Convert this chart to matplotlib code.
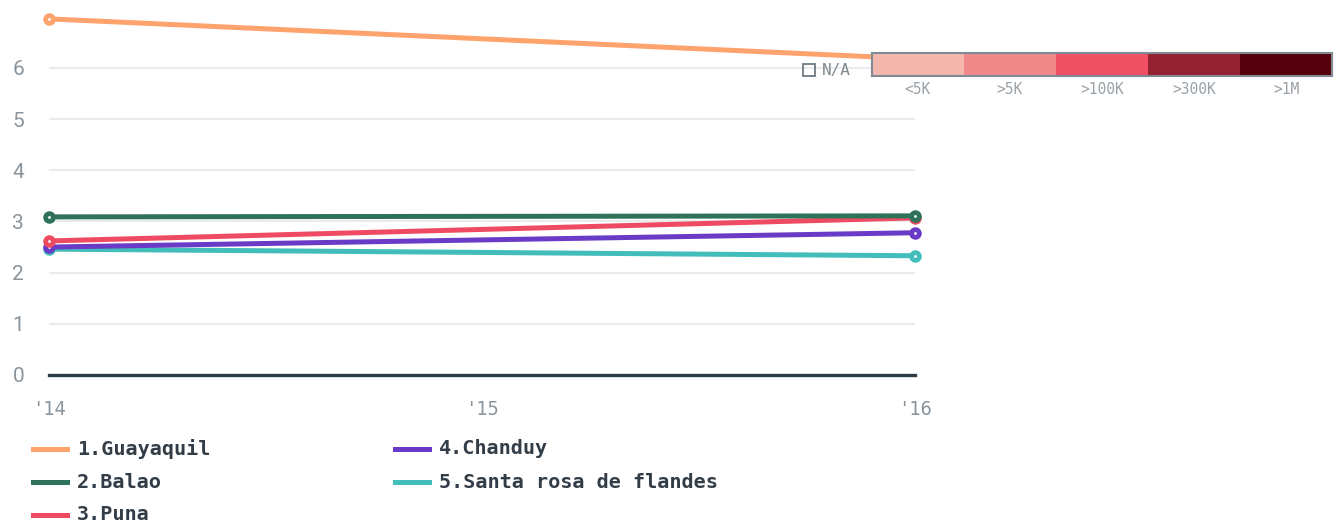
import matplotlib.pyplot as plt
from matplotlib.lines import Line2D

W, H = 1342, 528

years = ["'14", "'15", "'16"]
year_pos = [0, 2]  # data only for '14 and '16
names = ["1.Guayaquil", "2.Balao", "3.Puna", "4.Chanduy", "5.Santa rosa de flandes"]
guayaquil = [6.96, 6.18]
balao = [3.09, 3.11]
puna = [2.62, 3.07]
chanduy = [2.50, 2.78]
santa_rosa = [2.46, 2.33]
series = [guayaquil, balao, puna, chanduy, santa_rosa]
colors = ["#ffa36c", "#2e7359", "#ee4b63", "#6a3bc6", "#43bcbc"]

scale_labels = ["<5K", ">5K", ">100K", ">300K", ">1M"]
scale_colors = ["#f4b7ae", "#f08a8a", "#ef5064", "#93212f", "#55000c"]

fig = plt.figure(figsize=(W / 100, H / 100), dpi=100)

# main axes: x from 49 to 915 px, y=0 at 375 px, 7 at ~17 px
y0, ppu = 375, 51.17
ax = fig.add_axes([49 / W, (H - y0) / H, 866 / W, 7 * ppu / H])
ax.set_xlim(0, 2)
ax.set_ylim(0, 7)
for s in ax.spines.values():
    s.set_visible(False)
ax.set_yticks(range(0, 7))
ax.grid(axis="y", color="#e6e8ea", lw=1.2)
ax.set_axisbelow(True)
ax.tick_params(length=0)
ax.set_yticklabels([str(v) for v in range(7)], family="Roboto", fontsize=15, color="#8a949c")
ax.tick_params(axis="y", pad=18)
ax.set_xticks(range(3))
ax.set_xticklabels(years, family="DejaVu Sans Mono", fontsize=13.5, color="#8a949c")
ax.tick_params(axis="x", pad=18)
ax.axhline(0, color="#2d3b45", lw=2.4, zorder=3, clip_on=False)

# draw in reverse so Guayaquil sits on top
for i in reversed(range(len(series))):
    z = 4 + (len(series) - i)
    ax.plot(year_pos, series[i], color=colors[i], lw=3.6, marker="o", ms=9, mew=0,
            clip_on=False, zorder=z, solid_capstyle="round")
    ax.plot(year_pos, series[i], ls="none", marker="o", ms=2, mew=0, color="white",
            clip_on=False, zorder=z)

# colour scale legend
cax = fig.add_axes([872 / W, (H - 76) / H, 460 / W, 23 / H])
cax.bar(range(len(scale_colors)), [1] * len(scale_colors), width=1.0, color=scale_colors)
cax.set_xlim(-0.5, len(scale_colors) - 0.5)
cax.set_ylim(0, 1)
cax.set_yticks([])
cax.set_xticks(range(len(scale_labels)))
cax.set_xticklabels(scale_labels, family="DejaVu Sans Mono", fontsize=10.5, color="#9aa2a8")
cax.tick_params(length=0, pad=4)
for s in cax.spines.values():
    s.set_color("#7f8a92")
    s.set_linewidth(1.5)

fig.patches.append(plt.Rectangle((803 / W, (H - 76) / H), 12 / W, 12 / H, transform=fig.transFigure,
                                 fill=False, ec="#6f7a82", lw=1.3))
fig.text(822 / W, (H - 70) / H, "N/A", family="DejaVu Sans Mono", fontsize=11.5, color="#7f8a92",
         va="center", ha="left")

# series legend
cols = [33, 395]
rows = [449, 482, 515]
for i, name in enumerate(names):
    cx = cols[i // 3]
    cy = (H - rows[i % 3]) / H
    fig.add_artist(Line2D([cx / W, (cx + 34) / W], [cy, cy], color=colors[i], lw=3.6,
                          transform=fig.transFigure))
    fig.text((cx + 44) / W, cy, name, family="DejaVu Sans Mono", weight="bold",
             fontsize=14.5, color="#333d47", va="center", ha="left")

fig.savefig("out.png", dpi=100)
